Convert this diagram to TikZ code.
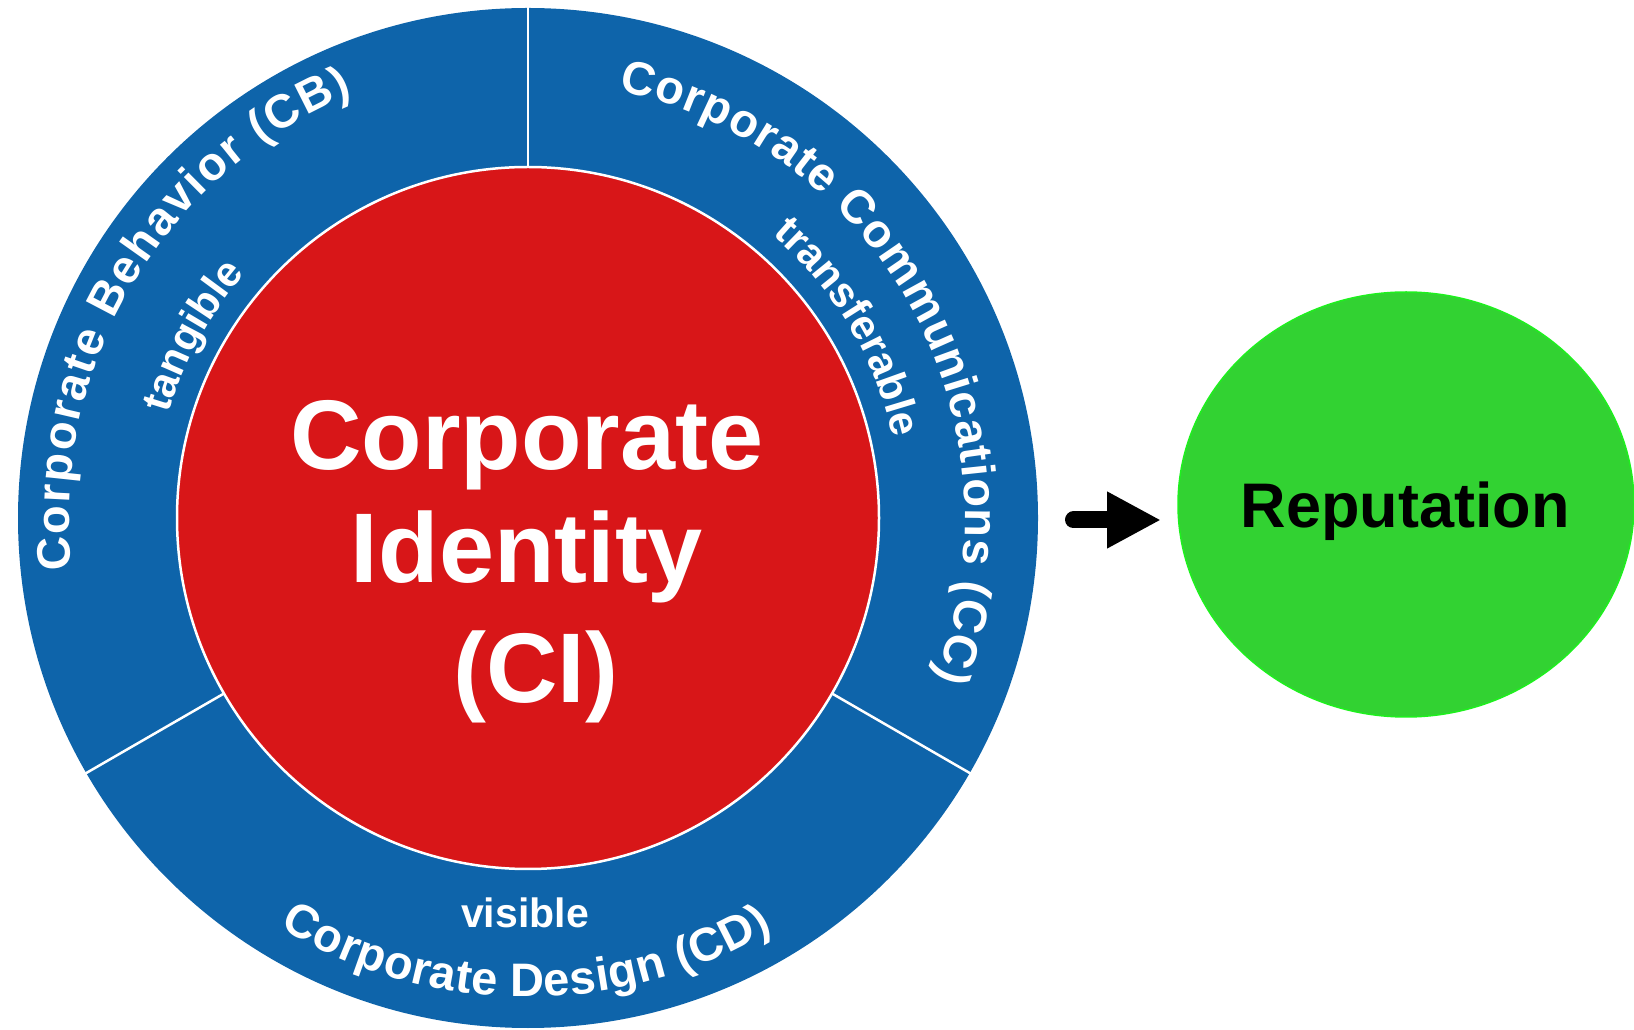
\documentclass[tikz,border=0pt]{standalone}
\usepackage{fontspec}
\setmainfont{Liberation Sans}
\usetikzlibrary{decorations.text,arrows.meta,shapes.geometric}
\definecolor{ringblue}{RGB}{14,100,170}
\definecolor{cired}{RGB}{216,22,24}
\definecolor{repgreen}{RGB}{50,210,50}
\definecolor{repedge}{RGB}{30,240,30}
\newcommand{\ringf}{\fontsize{47}{50}\selectfont\bfseries}
\newcommand{\innerf}{\fontsize{42}{50}\selectfont\bfseries}
\begin{document}
\begin{tikzpicture}[x=1pt,y=1pt,
  ringtext/.style={decorate, decoration={text along path, text color=white, text align=fit to path, text={|\ringf|#1}}},
  innertext/.style={decorate, decoration={text along path, text color=white, text align=center, text={|\innerf|#1}}},
  divider/.style={draw=white, line width=2.5pt},
  citext/.style={text=white, font=\fontsize{99}{99}\selectfont\bfseries, anchor=base, inner sep=0pt},
  arrowline/.style={line width=17pt, line cap=round, -{Triangle[length=54pt,width=53pt]}}
]
\useasboundingbox (0,0) rectangle (1634,1029);
\coordinate (C) at (528,511);
% outer blue ring
\fill[ringblue] (C) circle[radius=510pt];
% dividers
\draw[divider] (C) ++(90:351pt) -- ++(90:160pt);
\draw[divider] (C) ++(210:351pt) -- ++(210:160pt);
\draw[divider] (C) ++(330:351pt) -- ++(330:160pt);
% red inner circle
\node[circle, fill=cired, draw=white, line width=2.5pt, minimum size=702pt, inner sep=0pt] (ci) at (C) {};
% ring labels
\path[ringtext={Corporate Behavior (CB)}] (C) ++(186.5:459pt) arc[start angle=186.5, end angle=112.5, radius=459pt];
\path[ringtext={Corporate Communications (CC)}] (C) ++(78:437pt) arc[start angle=78, end angle=-21.5, radius=437pt];
\path[ringtext={Corporate Design (CD)}] (C) ++(238.8:479pt) arc[start angle=238.8, end angle=300.7, radius=479pt];
% inner labels
\path[innertext={tangible}] (C) ++(181.5:374pt) arc[start angle=181.5, end angle=121.5, radius=374pt];
\path[innertext={transferable}] (C) ++(60.8:374pt) arc[start angle=60.8, end angle=0.8, radius=374pt];
\node[text=white, font=\fontsize{41}{41}\selectfont\bfseries, anchor=base, inner sep=0pt] (vis) at (525,102) {visible};
% centre text
\node[citext] (ci1) at (527,559) {Corporate};
\node[citext] (ci2) at (527,446) {Identity};
\node[citext] (ci3) at (536,326) {(CI)};
% reputation
\node[ellipse, fill=repgreen, draw=repedge, line width=1.5pt, minimum width=456pt, minimum height=425pt, inner sep=0pt] (rep) at (1406,524.5) {};
\node[font=\fontsize{63}{63}\selectfont\bfseries, anchor=base, inner sep=0pt] (reptext) at (1405,501) {Reputation};
% arrow
\coordinate (arrS) at (1073.5,509);
\coordinate (arrE) at (1161,509);
\draw[arrowline] (arrS) -- (arrE);
\end{tikzpicture}
\end{document}
